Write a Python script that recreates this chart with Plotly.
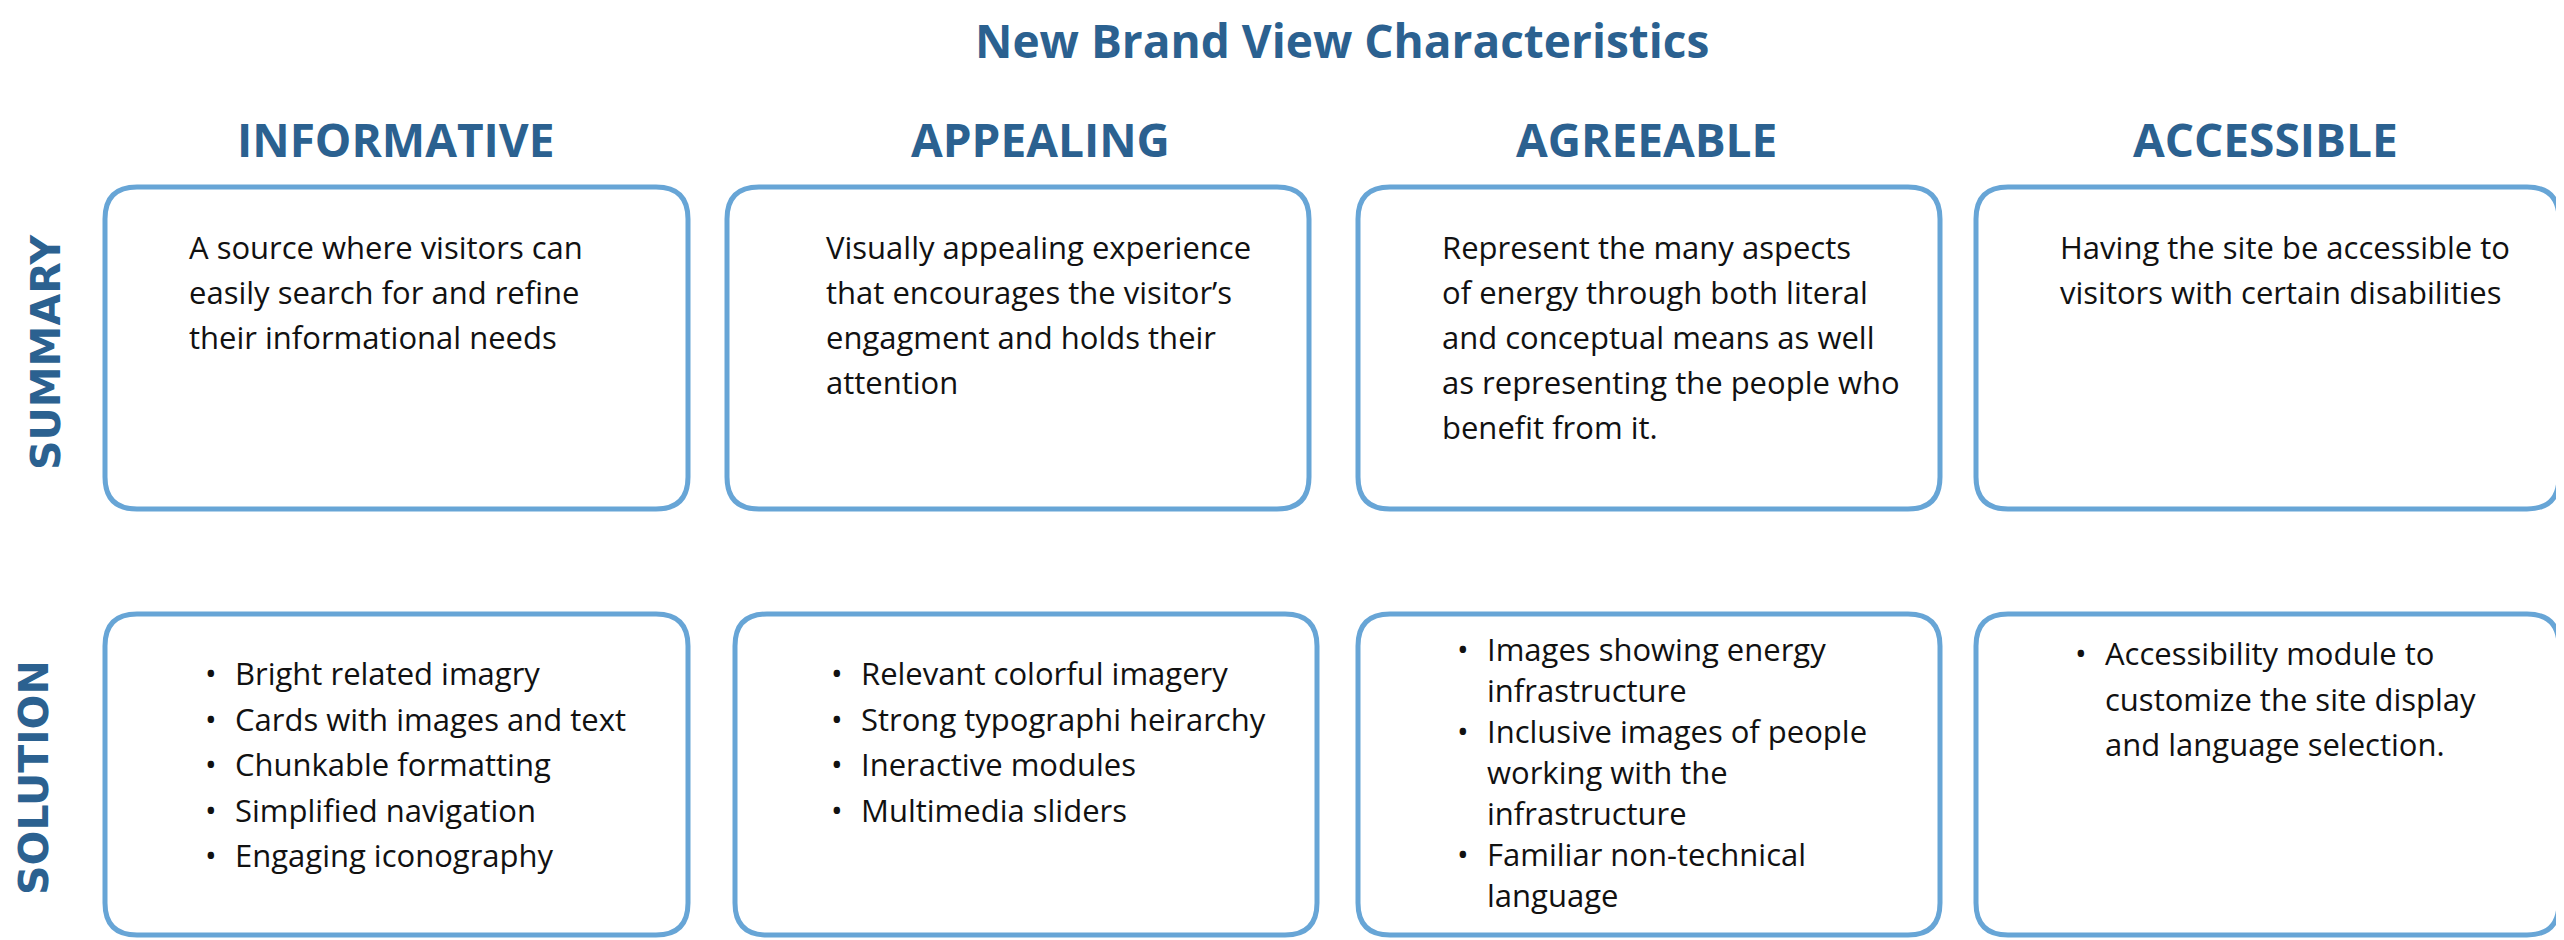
import plotly.graph_objects as go

# texte du tableau
title = "New Brand View Characteristics"
columns = ["INFORMATIVE", "APPEALING", "AGREEABLE", "ACCESSIBLE"]
rows = ["SUMMARY", "SOLUTION"]

summary_lines = [
    ["A source where visitors can", "easily search for and refine", "their informational needs"],
    ["Visually appealing experience", "that encourages the visitor’s", "engagment and holds their", "attention"],
    ["Represent the many aspects", "of energy through both literal", "and conceptual means as well",
     "as representing the people who", "benefit from it."],
    ["Having the site be accessible to", "visitors with certain disabilities"],
]

solution_items = [
    [["Bright related imagry"], ["Cards with images and text"], ["Chunkable formatting"],
     ["Simplified navigation"], ["Engaging iconography"]],
    [["Relevant colorful imagery"], ["Strong typographi heirarchy"], ["Ineractive modules"],
     ["Multimedia sliders"]],
    [["Images showing energy", "infrastructure"], ["Inclusive images of people", "working with the", "infrastructure"],
     ["Familiar non-technical", "language"]],
    [["Accessibility module to", "customize the site display", "and language selection."]],
]

# mise en page (pixels de la page)
W, H = 2564, 940
OFF = 8  # marge du body html
blue_dark = "#2b6190"
blue_line = "#67a5d6"
header_x = [396, 1040, 1646, 2265]
sum_box_x = [(105, 688), (727, 1309), (1358, 1940), (1976, 2559)]
sol_box_x = [(105, 688), (735, 1317), (1358, 1940), (1976, 2559)]
sum_box_y = (187, 509)
sol_box_y = (614, 935)
sum_text_x = [187, 824, 1440, 2058]
sol_text_x = [233, 859, 1485, 2103]
sum_first_y = 247
sol_first_y = [673, 673, 649, 653]
sol_step = [45.5, 45.5, 41, 45.5]
line_step = 45


def rounded(x0, y0, x1, y1, r=32):
    return (f"M {x0+r},{y0} L {x1-r},{y0} Q {x1},{y0} {x1},{y0+r} "
            f"L {x1},{y1-r} Q {x1},{y1} {x1-r},{y1} L {x0+r},{y1} "
            f"Q {x0},{y1} {x0},{y1-r} L {x0},{y0+r} Q {x0},{y0} {x0+r},{y0} Z")


fig = go.Figure()
fig.add_trace(go.Scatter(x=[OFF, W], y=[OFF, H], mode="markers", marker=dict(opacity=0), hoverinfo="skip"))

shapes = []
for (x0, x1) in sum_box_x:
    shapes.append(dict(type="path", path=rounded(x0, sum_box_y[0], x1, sum_box_y[1]),
                       line=dict(color=blue_line, width=5), xref="x", yref="y"))
for (x0, x1) in sol_box_x:
    shapes.append(dict(type="path", path=rounded(x0, sol_box_y[0], x1, sol_box_y[1]),
                       line=dict(color=blue_line, width=5), xref="x", yref="y"))

ann = []
body_font = dict(family="Open Sans", size=31, color="#111111")

# titre
ann.append(dict(x=1342, y=40, text=title, showarrow=False, xanchor="center", yanchor="middle",
                font=dict(family="Open Sans", size=46, color=blue_dark, weight=700)))

# en-tetes
for i, c in enumerate(columns):
    ann.append(dict(x=header_x[i], y=139, text=c, showarrow=False, xanchor="center", yanchor="middle",
                    font=dict(family="Open Sans", size=46, color=blue_dark, weight=700)))

# etiquettes des lignes
ann.append(dict(x=46, y=352, text=rows[0], showarrow=False, textangle=-90, xanchor="center", yanchor="middle",
                font=dict(family="DejaVu Sans", size=41, color=blue_dark, weight=700)))
ann.append(dict(x=34, y=778, text=rows[1], showarrow=False, textangle=-90, xanchor="center", yanchor="middle",
                font=dict(family="DejaVu Sans", size=41, color=blue_dark, weight=700)))

# textes resume
for i, lines in enumerate(summary_lines):
    for j, t in enumerate(lines):
        ann.append(dict(x=sum_text_x[i], y=sum_first_y + j * line_step, text=t, showarrow=False,
                        xanchor="left", yanchor="middle", font=body_font))

# listes solution
for i, items in enumerate(solution_items):
    k = 0
    for item in items:
        ann.append(dict(x=sol_text_x[i] - 30, y=sol_first_y[i] + k * sol_step[i], text="•", showarrow=False,
                        xanchor="left", yanchor="middle", font=body_font))
        for t in item:
            ann.append(dict(x=sol_text_x[i], y=sol_first_y[i] + k * sol_step[i], text=t, showarrow=False,
                            xanchor="left", yanchor="middle", font=body_font))
            k += 1

fig.update_layout(
    width=W - OFF, height=H - OFF,
    margin=dict(l=0, r=0, t=0, b=0),
    paper_bgcolor="white", plot_bgcolor="white",
    showlegend=False,
    xaxis=dict(range=[OFF, W], visible=False, fixedrange=True),
    yaxis=dict(range=[H, OFF], visible=False, fixedrange=True),
    shapes=shapes,
    annotations=ann,
)

fig.write_html("out.html")
